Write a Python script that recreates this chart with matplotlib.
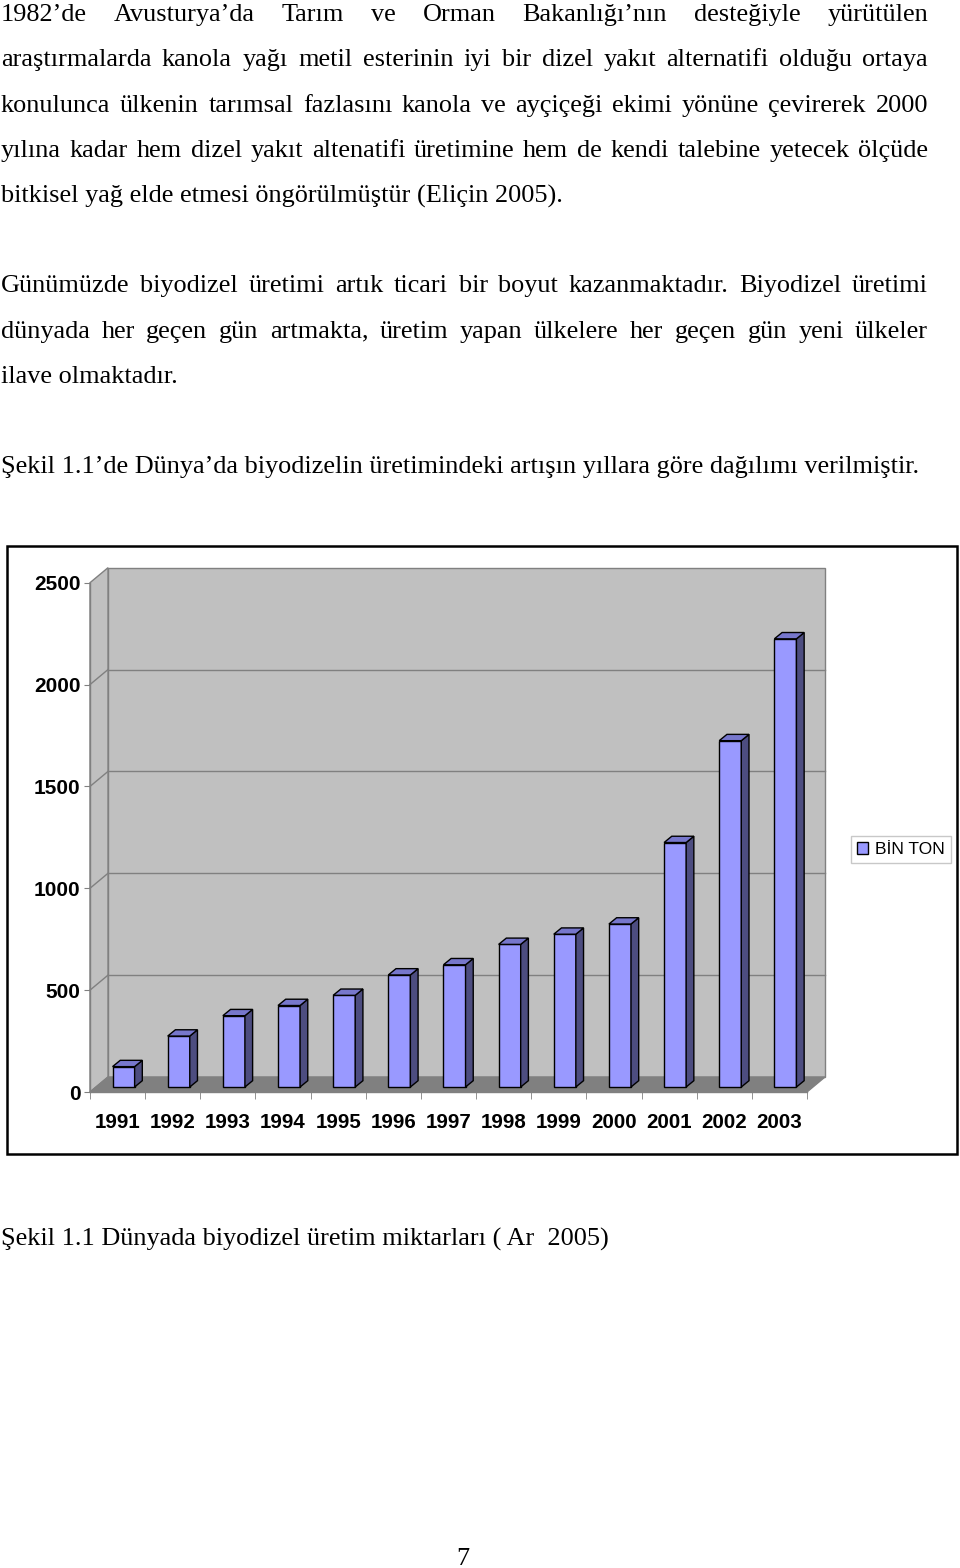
import matplotlib
matplotlib.use("Agg")
import matplotlib.pyplot as plt
from matplotlib.patches import Rectangle, Polygon

# chart data
years = ["1991", "1992", "1993", "1994", "1995", "1996", "1997",
         "1998", "1999", "2000", "2001", "2002", "2003"]
bin_ton = [100, 250, 350, 400, 450, 550, 600, 700, 750, 800, 1200, 1700, 2200]
y_ticks = [0, 500, 1000, 1500, 2000, 2500]
legend_label = "BİN TON"

# page text (line, justified?)
para1 = [
    ("1982’de Avusturya’da Tarım ve Orman Bakanlığı’nın desteğiyle yürütülen", True),
    ("araştırmalarda kanola yağı metil esterinin iyi bir dizel yakıt alternatifi olduğu ortaya", True),
    ("konulunca ülkenin tarımsal fazlasını kanola ve ayçiçeği ekimi yönüne çevirerek 2000", True),
    ("yılına kadar hem dizel yakıt altenatifi üretimine hem de kendi talebine yetecek ölçüde", True),
    ("bitkisel yağ elde etmesi öngörülmüştür (Eliçin 2005).", False),
]
para2 = [
    ("Günümüzde biyodizel üretimi artık ticari bir boyut kazanmaktadır. Biyodizel üretimi", True),
    ("dünyada her geçen gün artmakta, üretim yapan  ülkelere her geçen gün yeni ülkeler", True),
    ("ilave olmaktadır.", False),
]
para3 = [("Şekil 1.1’de Dünya’da biyodizelin üretimindeki artışın yıllara göre dağılımı verilmiştir.", False)]
caption = "Şekil 1.1 Dünyada biyodizel üretim miktarları ( Ar  2005)"
page_no = "7"

W, H = 960, 1568
fig = plt.figure(figsize=(W / 100, H / 100), dpi=100)
fig.patch.set_facecolor("white")
renderer = fig.canvas.get_renderer()

page = fig.add_axes([0, 0, 1, 1])
page.set_xlim(0, W)
page.set_ylim(H, 0)
page.axis("off")

SERIF = "Liberation Serif"
BODY = 18.9
LEFT, RIGHT = 1, 928


def put_line(y, text, justify, size=BODY):
    if not justify:
        page.text(LEFT, y, text, fontsize=size, family=SERIF, va="baseline", ha="left")
        return
    words = text.split()
    objs = [page.text(0, y, w, fontsize=size, family=SERIF, va="baseline", ha="left") for w in words]
    widths = [o.get_window_extent(renderer).width for o in objs]
    gap = (RIGHT - LEFT - sum(widths)) / (len(words) - 1)
    x = LEFT
    for o, w in zip(objs, widths):
        o.set_x(x)
        x += w + gap


for i, (t, j) in enumerate(para1):
    put_line(21 + i * 45.3, t, j)
for i, (t, j) in enumerate(para2):
    put_line(292 + i * 45.5, t, j)
for t, j in para3:
    put_line(473, t, j)
page.text(LEFT, 1246, caption, fontsize=18.9, family=SERIF, va="baseline")
page.text(463, 1565, page_no, fontsize=18.9, family=SERIF, va="baseline", ha="center")

# outer chart frame
page.add_patch(Rectangle((7, 546), 950, 608, fill=False, ec="black", lw=1.8))

# chart axes = front plane of the 3D box
x0, x1, y0, y1 = 90, 807, 1092, 582.7
ax = fig.add_axes([x0 / W, 1 - y0 / H, (x1 - x0) / W, (y0 - y1) / H])
ax.set_xlim(-0.5, len(years) - 0.5)
ax.set_ylim(0, 2500)
ax.patch.set_visible(False)

ux = len(years) / (x1 - x0)      # data units per pixel
uy = 2500 / (y0 - y1)
Dx, Dy = 18 * ux, 15 * uy        # wall depth
xl, xr = -0.5, len(years) - 0.5
grey, wall = "#808080", "#c0c0c0"

ax.add_patch(Rectangle((xl + Dx, Dy), xr - xl, 2500, fc=wall, ec=grey, lw=1, clip_on=False, zorder=0))
ax.add_patch(Polygon([(xl, 0), (xl, 2500), (xl + Dx, 2500 + Dy), (xl + Dx, Dy)],
                     closed=True, fc=wall, ec=grey, lw=1, clip_on=False, zorder=0))
ax.add_patch(Polygon([(xl, 0), (xr, 0), (xr + Dx, Dy), (xl + Dx, Dy)],
                     closed=True, fc=grey, ec=grey, lw=1, clip_on=False, zorder=1))
for v in y_ticks[1:-1]:
    ax.plot([xl + Dx, xr + Dx], [v + Dy, v + Dy], color=grey, lw=1, clip_on=False, zorder=0.5)
    ax.plot([xl, xl + Dx], [v, v + Dy], color=grey, lw=1, clip_on=False, zorder=0.5)

# bars
bw = 0.4
fx, fy = 6 * ux, 5 * uy          # front face sits a third into the depth
bx, by = 7.7 * ux, 6.3 * uy      # bar depth
front, top, side = "#9999ff", "#7777cc", "#4d4d80"
xs = list(range(len(years)))
bars = ax.bar([x + fx for x in xs], bin_ton, width=bw, bottom=fy, color=front,
              edgecolor="black", lw=1, clip_on=False, zorder=3, label=legend_label)
for x, v in zip(xs, bin_ton):
    l, r = x + fx - bw / 2, x + fx + bw / 2
    t = fy + v
    ax.add_patch(Polygon([(r, fy), (r, t), (r + bx, t + by), (r + bx, fy + by)], closed=True,
                         fc=side, ec="black", lw=1, clip_on=False, zorder=3))
    ax.add_patch(Polygon([(l, t), (r, t), (r + bx, t + by), (l + bx, t + by)], closed=True,
                         fc=top, ec="black", lw=1, clip_on=False, zorder=3))

# axes & ticks
for s in ["top", "right"]:
    ax.spines[s].set_visible(False)
for s in ["left", "bottom"]:
    ax.spines[s].set_color(grey)
    ax.spines[s].set_linewidth(1)
ax.set_yticks(y_ticks)
ax.set_yticklabels([str(v) for v in y_ticks], fontsize=15, fontweight="bold", family="Liberation Sans")
ax.tick_params(axis="y", length=4, color=grey, pad=3)
ax.set_xticks(xs)
ax.set_xticklabels(years, fontsize=14.8, fontweight="bold", family="Liberation Sans")
ax.set_xticks([x - 0.5 for x in range(len(years) + 1)], minor=True)
ax.tick_params(axis="x", which="major", length=0, pad=15)
ax.tick_params(axis="x", which="minor", length=5, color=grey)

leg = ax.legend(handles=[bars], labels=[legend_label], loc="upper left",
                bbox_to_anchor=(851 / W, 1 - 836 / H), bbox_transform=fig.transFigure,
                borderaxespad=0, fancybox=False, framealpha=1, edgecolor="#c8c8c8",
                prop={"family": "Liberation Sans", "size": 12.6},
                handlelength=0.6, handleheight=0.6, handletextpad=0.4, borderpad=0.35)
leg.get_frame().set_linewidth(1)

fig.savefig("out.png", dpi=100)
